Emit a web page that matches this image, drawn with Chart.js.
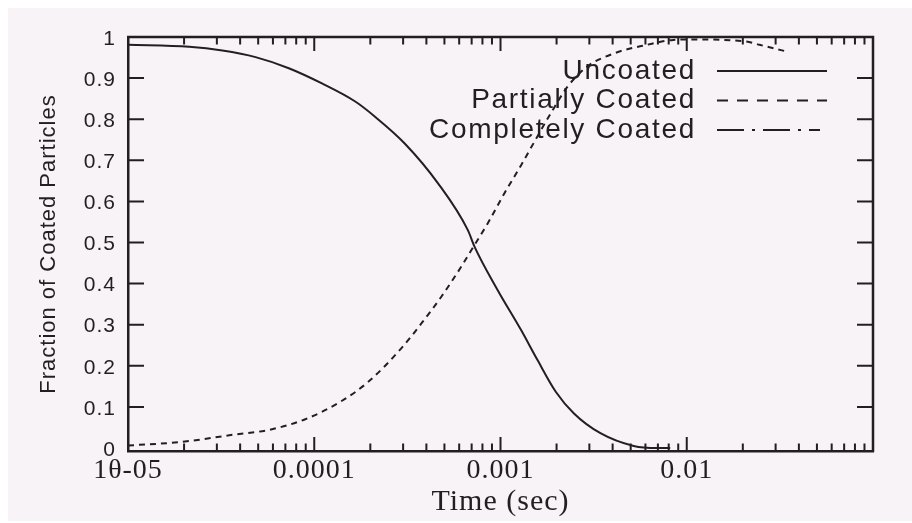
<!DOCTYPE html>
<html>
<head>
<meta charset="utf-8">
<script src="https://cdn.jsdelivr.net/npm/chart.js@4.4.1/dist/chart.umd.min.js"></script>
<style>
html, body { margin: 0; padding: 0; background: #ffffff; }
canvas { display: block; }
</style>
</head>
<body>
<canvas id="c" width="912" height="523" style="width:912px;height:523px"></canvas>
<script>
// ---- data ----
const seriesNames = ['Uncoated', 'Partially Coated', 'Completely Coated'];

const uncoatedTime = [1e-5, 2.13e-5, 3.21e-5, 4.84e-5, 7.30e-5, 1.10e-4, 1.66e-4, 2.12e-4, 3.06e-4, 4.62e-4,
  6.68e-4, 7.25e-4, 9.66e-4, 1.29e-3, 1.58e-3, 1.98e-3, 2.48e-3, 3.44e-3, 5.19e-3, 6.92e-3, 8.15e-3];
const uncoatedFraction = [0.981, 0.976, 0.967, 0.951, 0.924, 0.887, 0.843, 0.806, 0.741, 0.644,
  0.530, 0.490, 0.384, 0.287, 0.214, 0.137, 0.084, 0.036, 0.005, 0.0, 0.0];

const partialTime = [1e-5, 1.96e-5, 3.63e-5, 5.70e-5, 8.95e-5, 1.41e-4, 1.95e-4, 2.94e-4, 3.76e-4, 4.81e-4,
  6.15e-4, 7.25e-4, 8.55e-4, 1.05e-3, 1.29e-3, 1.52e-3, 1.86e-3, 2.29e-3, 2.92e-3, 4.06e-3,
  6.11e-3, 8.48e-3, 1.08e-2, 2.09e-2, 2.46e-2, 3.49e-2];
const partialFraction = [0.006, 0.015, 0.032, 0.044, 0.070, 0.115, 0.161, 0.243, 0.303, 0.368,
  0.441, 0.494, 0.547, 0.620, 0.688, 0.745, 0.814, 0.879, 0.928, 0.960,
  0.981, 0.993, 0.994, 0.989, 0.981, 0.964];

const completeTime = [];
const completeFraction = [];

const xTickValues = [1e-5, 1e-4, 1e-3, 1e-2];
const xTickLabels = ['1θ-05', '0.0001', '0.001', '0.01'];
const yTickValues = [0, 0.1, 0.2, 0.3, 0.4, 0.5, 0.6, 0.7, 0.8, 0.9, 1];
const yTickLabels = ['0', '0.1', '0.2', '0.3', '0.4', '0.5', '0.6', '0.7', '0.8', '0.9', '1'];

// ---- styling ----
const INK = '#231f20';
const PANEL = '#f8f3f7';
const pairs = (xs, ys) => xs.map((x, i) => ({ x: x, y: ys[i] }));

const panelPlugin = {
  id: 'panel',
  beforeDraw(chart) {
    const ctx = chart.ctx;
    ctx.save();
    ctx.fillStyle = PANEL;
    ctx.fillRect(8, 8, chart.width - 8, chart.height - 10);
    ctx.restore();
    ctx.letterSpacing = '1px';
  }
};

const frameTicksPlugin = {
  id: 'frameTicks',
  afterDatasetsDraw(chart) {
    const { ctx, chartArea: a, scales } = chart;
    const x = scales.x, y = scales.y;
    ctx.save();
    ctx.setLineDash([]);
    ctx.strokeStyle = INK;
    ctx.lineWidth = 2.5;
    ctx.beginPath();
    ctx.moveTo(a.left - 1, a.top);
    ctx.lineTo(a.right, a.top);
    ctx.lineTo(a.right, a.bottom + 1);
    ctx.stroke();
    ctx.lineWidth = 2;
    ctx.beginPath();
    const lo = Math.floor(Math.log10(x.min)), hi = Math.ceil(Math.log10(x.max));
    for (let e = lo; e <= hi; e++) {
      for (let m = 1; m <= 9; m++) {
        const v = m * Math.pow(10, e);
        if (v <= x.min * 1.001 || v >= x.max * 0.999) continue;
        const px = x.getPixelForValue(v);
        const len = m === 1 ? 14 : 7.5;
        ctx.moveTo(px, a.bottom); ctx.lineTo(px, a.bottom - len);
        ctx.moveTo(px, a.top); ctx.lineTo(px, a.top + len);
      }
    }
    y.ticks.forEach(t => {
      if (t.value <= 0 || t.value >= 1) return;
      const py = y.getPixelForValue(t.value);
      ctx.moveTo(a.left, py); ctx.lineTo(a.left + 16, py);
      ctx.moveTo(a.right, py); ctx.lineTo(a.right - 16, py);
    });
    ctx.stroke();
    ctx.restore();
  }
};

const LEGEND_DASHES = [[], [11, 9], [27, 8, 3, 8]];
const legendPlugin = {
  id: 'keyBox',
  afterDatasetsDraw(chart) {
    const ctx = chart.ctx;
    ctx.save();
    chart.data.datasets.forEach((ds, i) => {
      const yy = 71 + i * 29.5;
      ctx.font = '28px "Liberation Sans", Arial, sans-serif';
      ctx.letterSpacing = '1.7px';
      ctx.fillStyle = INK;
      ctx.textAlign = 'right';
      ctx.textBaseline = 'middle';
      ctx.fillText(ds.label, 696, yy);
      ctx.letterSpacing = '0px';
      ctx.setLineDash(LEGEND_DASHES[i]);
      ctx.lineWidth = 2;
      ctx.strokeStyle = INK;
      ctx.beginPath();
      ctx.moveTo(717, yy);
      ctx.lineTo(i === 2 ? 820 : 827, yy);
      ctx.stroke();
    });
    ctx.restore();
  }
};

new Chart(document.getElementById('c'), {
  type: 'line',
  data: {
    datasets: [
      { label: seriesNames[0], data: pairs(uncoatedTime, uncoatedFraction), borderColor: INK, borderWidth: 2, borderDash: [], cubicInterpolationMode: 'monotone', pointRadius: 0, fill: false },
      { label: seriesNames[1], data: pairs(partialTime, partialFraction), borderColor: INK, borderWidth: 2, borderDash: [6, 5], cubicInterpolationMode: 'monotone', pointRadius: 0, fill: false },
      { label: seriesNames[2], data: pairs(completeTime, completeFraction), borderColor: INK, borderWidth: 2, borderDash: [14, 5, 3, 5], cubicInterpolationMode: 'monotone', pointRadius: 0, fill: false }
    ]
  },
  options: {
    responsive: false,
    animation: false,
    devicePixelRatio: 1,
    layout: { padding: { left: 0, top: 37, right: 39, bottom: 0 } },
    plugins: { legend: { display: false }, tooltip: { enabled: false } },
    scales: {
      x: {
        type: 'logarithmic',
        position: 'bottom',
        min: 1e-5,
        max: 0.1,
        afterBuildTicks: s => { s.ticks = xTickValues.map(v => ({ value: v })); },
        afterFit: s => { s.height = 72; },
        ticks: {
          autoSkip: false, maxRotation: 0, minRotation: 0, padding: 3, color: INK,
          font: { family: '"Liberation Serif", "Times New Roman", serif', size: 28 },
          callback: (v, i) => xTickLabels[i]
        },
        grid: { display: false, drawTicks: false },
        border: { display: true, color: INK, width: 2.5 },
        title: {
          display: true, text: 'Time (sec)', color: INK,
          font: { family: '"Liberation Serif", "Times New Roman", serif', size: 30 },
          padding: { top: 0, bottom: 3 }
        }
      },
      y: {
        type: 'linear',
        position: 'left',
        min: -0.0073,
        max: 1,
        afterBuildTicks: s => { s.ticks = yTickValues.map(v => ({ value: v })); },
        afterFit: s => { s.width = 128; },
        ticks: {
          autoSkip: false, padding: 12, labelOffset: 2, color: INK,
          font: { family: '"Liberation Sans", Arial, sans-serif', size: 21 },
          callback: (v, i) => yTickLabels[i]
        },
        grid: { display: false, drawTicks: false },
        border: { display: true, color: INK, width: 2.5 },
        title: {
          display: true, text: 'Fraction of Coated Particles', color: INK,
          font: { family: '"Liberation Sans", Arial, sans-serif', size: 22 },
          padding: { top: 36, bottom: 0 }
        }
      }
    }
  },
  plugins: [panelPlugin, frameTicksPlugin, legendPlugin]
});
</script>
</body>
</html>
